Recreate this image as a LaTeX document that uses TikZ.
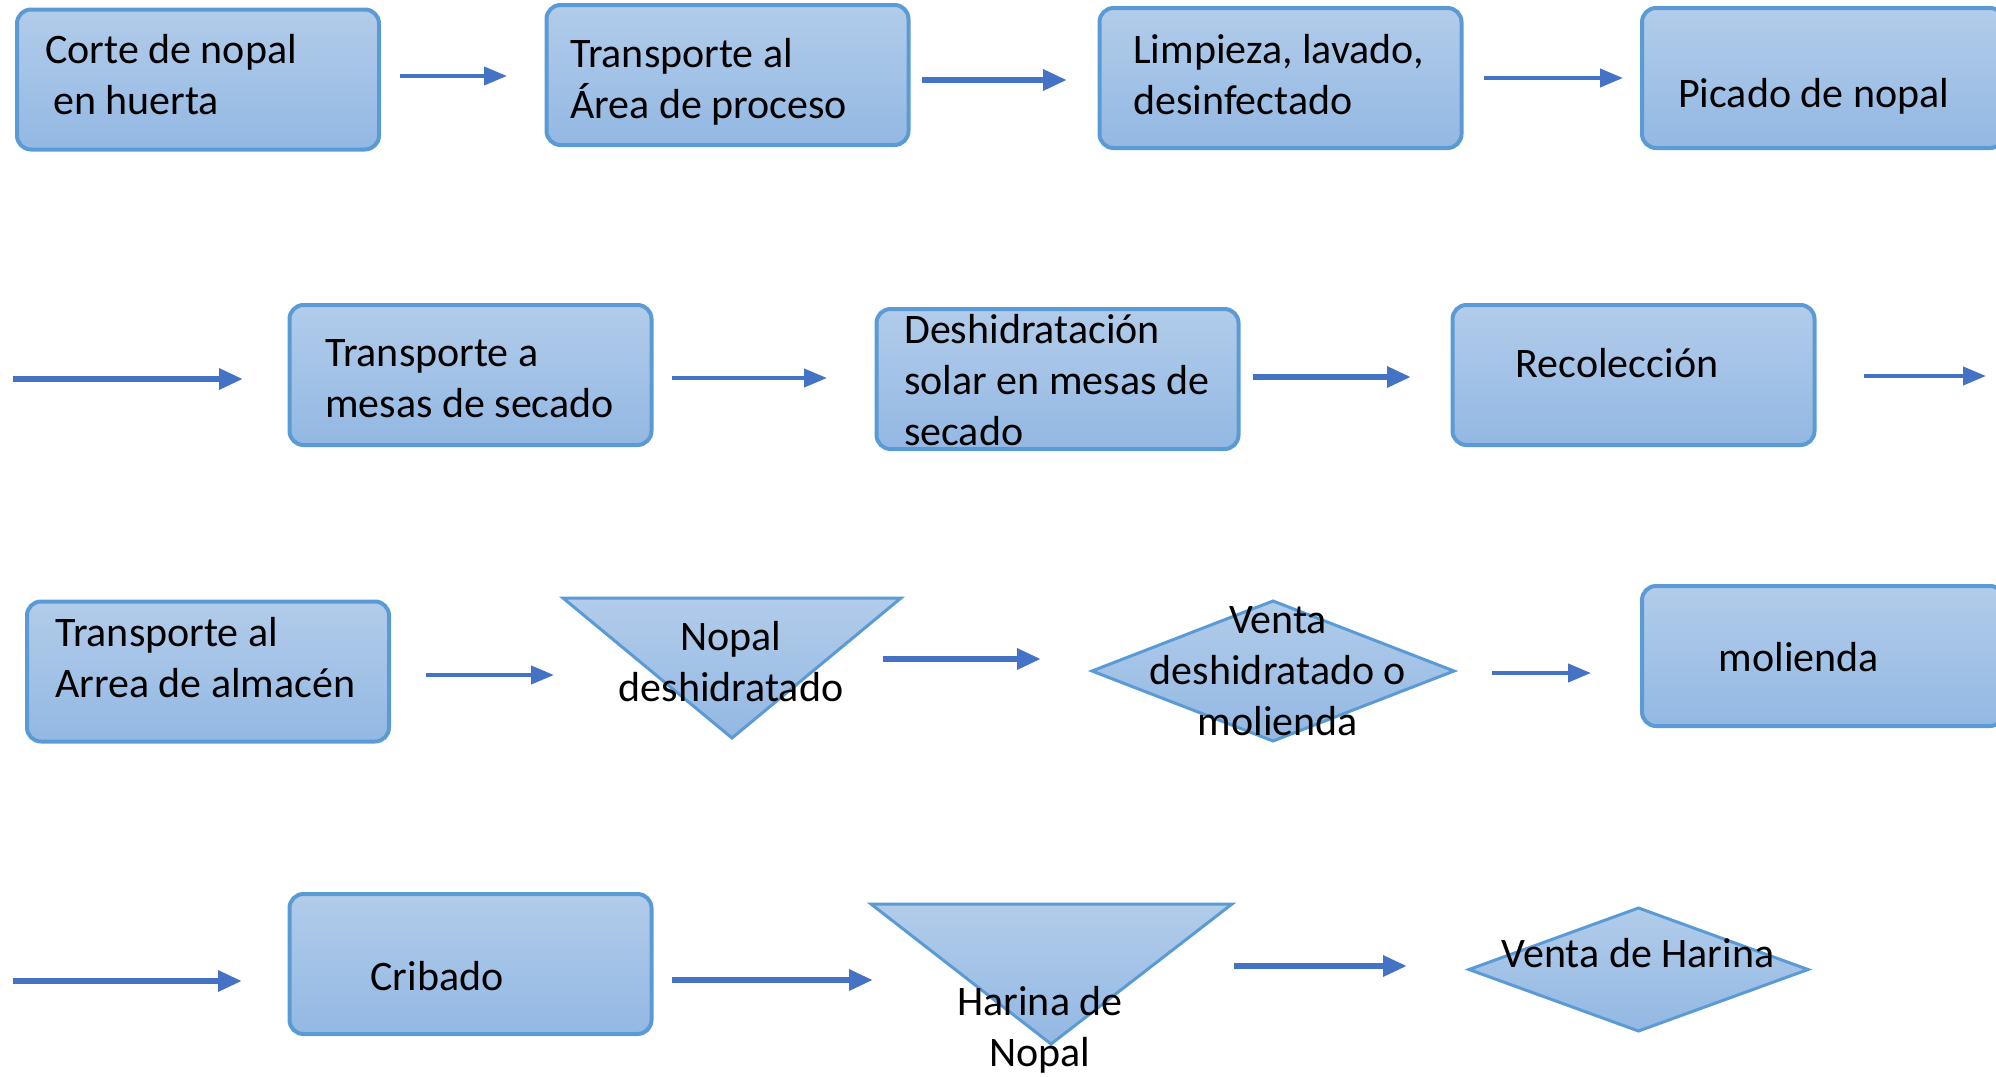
\documentclass[tikz,border=0pt]{standalone}
\usepackage{fontspec}
\setmainfont{Carlito}
\usetikzlibrary{arrows.meta}
\definecolor{boxtop}{HTML}{B2CCEA}
\definecolor{boxbot}{HTML}{93B8E3}
\definecolor{boxedge}{HTML}{5B9BD5}
\definecolor{arrowc}{HTML}{4472C4}
\tikzset{
  pbox/.style={rectangle, rounded corners=14pt, draw=boxedge, line width=4pt,
    top color=boxtop, bottom color=boxbot, minimum width=362pt, minimum height=140pt, inner sep=0pt},
  pshape/.style={draw=boxedge, line width=3pt, top color=boxtop, bottom color=boxbot},
  lbl/.style={inner sep=0pt, font=\fontsize{42}{51}\selectfont, text=black},
  thin arrow/.style={draw=arrowc, line width=4pt, -{Triangle[length=23pt,width=18pt]}},
  thick arrow/.style={draw=arrowc, line width=6pt, -{Triangle[length=24pt,width=20pt]}},
}
\begin{document}
\begin{tikzpicture}[x=1pt,y=-1pt]
\useasboundingbox (0,0) rectangle (1996,1076);
\begin{scope}
\clip (0,0) rectangle (1996,1076);
% ---- row 1
\node[pbox] (b1) at (198,79.5) {};
\node[pbox] (b2) at (727.5,75) {};
\node[pbox] (b3) at (1280.5,78) {};
\node[pbox] (b4) at (1823,78) {};
\node[lbl, anchor=base west, align=left] (t1) at (45,114) {Corte de nopal\\\hspace*{8pt}en huerta};
\node[lbl, anchor=base west, align=left] (t2) at (570,118) {Transporte al\\Área de proceso};
\node[lbl, anchor=base west, align=left] (t3) at (1133,114) {Limpieza, lavado,\\desinfectado};
\node[lbl, anchor=base west] (t4) at (1678,107) {Picado de nopal};
% ---- row 2
\node[pbox] (b5) at (470.5,375) {};
\node[pbox] (b6) at (1057.5,379) {};
\node[pbox] (b7) at (1633.5,375) {};
\node[lbl, anchor=base west, align=left] (t5) at (325,417) {Transporte a\\mesas de secado};
\node[lbl, anchor=base west, align=left] (t6) at (904,445) {Deshidratación\\solar en mesas de\\secado};
\node[lbl, anchor=base] (t7) at (1617,377) {Recolección};
% ---- row 3
\node[pbox] (b8) at (208,671.5) {};
\coordinate (tr1a) at (563,598);
\coordinate (tr1b) at (901,598);
\coordinate (tr1c) at (732,738);
\path[pshape] (tr1a) -- (tr1b) -- (tr1c) -- cycle;
\coordinate (d1n) at (1273,601);
\coordinate (d1e) at (1454,671);
\coordinate (d1s) at (1273,741);
\coordinate (d1w) at (1092,671);
\path[pshape] (d1n) -- (d1e) -- (d1s) -- (d1w) -- cycle;
\node[pbox] (b9) at (1823,656) {};
\node[lbl, anchor=base west, align=left] (t8) at (55,697) {Transporte al\\Arrea de almacén};
\node[lbl, anchor=base, align=center] (t9) at (731,701) {Nopal\\deshidratado};
\node[lbl, anchor=base, align=center] (t10) at (1278,735) {Venta\\deshidratado o\\molienda};
\node[lbl, anchor=base] (t11) at (1799,671) {molienda};
% ---- row 4
\node[pbox] (b10) at (470.5,964) {};
\coordinate (tr2a) at (871,904);
\coordinate (tr2b) at (1232,904);
\coordinate (tr2c) at (1051,1044);
\path[pshape] (tr2a) -- (tr2b) -- (tr2c) -- cycle;
\coordinate (d2n) at (1638.5,908);
\coordinate (d2e) at (1808,969.5);
\coordinate (d2s) at (1638.5,1031);
\coordinate (d2w) at (1469,969.5);
\path[pshape] (d2n) -- (d2e) -- (d2s) -- (d2w) -- cycle;
\node[lbl, anchor=base] (t12) at (437,990) {Cribado};
\node[lbl, anchor=base, align=center] (t13) at (1040,1066) {Harina de\\Nopal};
\node[lbl, anchor=base] (t14) at (1638,967) {Venta de Harina};
\end{scope}
% ---- arrows
\coordinate (a1s) at (400,76);   \coordinate (a1e) at (507,76);
\coordinate (a2s) at (922,80);   \coordinate (a2e) at (1067,80);
\coordinate (a3s) at (1484,78);  \coordinate (a3e) at (1623,78);
\coordinate (a4s) at (13,379);   \coordinate (a4e) at (243,379);
\coordinate (a5s) at (672,378);  \coordinate (a5e) at (827,378);
\coordinate (a6s) at (1253,377); \coordinate (a6e) at (1411,377);
\coordinate (a7s) at (1864,376); \coordinate (a7e) at (1986,376);
\coordinate (a8s) at (426,675);  \coordinate (a8e) at (554,675);
\coordinate (a9s) at (883,659);  \coordinate (a9e) at (1041,659);
\coordinate (a10s) at (1492,673); \coordinate (a10e) at (1591,673);
\coordinate (a11s) at (13,981);  \coordinate (a11e) at (242,981);
\coordinate (a12s) at (672,980); \coordinate (a12e) at (873,980);
\coordinate (a13s) at (1234,966); \coordinate (a13e) at (1407,966);
\draw[thin arrow] (a1s) -- (a1e);
\draw[thick arrow] (a2s) -- (a2e);
\draw[thin arrow] (a3s) -- (a3e);
\draw[thick arrow] (a4s) -- (a4e);
\draw[thin arrow] (a5s) -- (a5e);
\draw[thick arrow] (a6s) -- (a6e);
\draw[thin arrow] (a7s) -- (a7e);
\draw[thin arrow] (a8s) -- (a8e);
\draw[thick arrow] (a9s) -- (a9e);
\draw[thin arrow] (a10s) -- (a10e);
\draw[thick arrow] (a11s) -- (a11e);
\draw[thick arrow] (a12s) -- (a12e);
\draw[thick arrow] (a13s) -- (a13e);
\end{tikzpicture}
\end{document}
